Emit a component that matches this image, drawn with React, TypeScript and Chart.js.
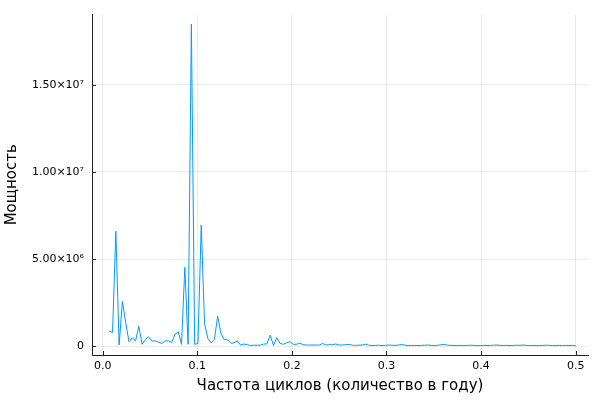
import React, { useEffect, useRef } from "react";
import { Chart, registerables } from "chart.js";

Chart.register(...registerables);

// Frequencies (cycles per sample) of the periodogram
const frequencies: number[] = [
  0.00694, 0.01042, 0.01389, 0.01736, 0.02083, 0.02431, 0.02778, 0.03125, 0.03472, 0.03819,
  0.04167, 0.04514, 0.04861, 0.05208, 0.05556, 0.05903, 0.0625, 0.06597, 0.06944, 0.07292,
  0.07639, 0.07986, 0.08333, 0.08681, 0.09028, 0.09375, 0.09722, 0.10069, 0.10417, 0.10764,
  0.11111, 0.11458, 0.11806, 0.12153, 0.125, 0.12847, 0.13194, 0.13542, 0.13889, 0.14236,
  0.14583, 0.14931, 0.15278, 0.15625, 0.15972, 0.16319, 0.16667, 0.17014, 0.17361, 0.17708,
  0.18056, 0.18403, 0.1875, 0.19097, 0.19444, 0.19792, 0.20139, 0.20486, 0.20833, 0.21181,
  0.21528, 0.21875, 0.22222, 0.22569, 0.22917, 0.23264, 0.23611, 0.23958, 0.24306, 0.24653,
  0.25, 0.25347, 0.25694, 0.26042, 0.26389, 0.26736, 0.27083, 0.27431, 0.27778, 0.28125,
  0.28472, 0.28819, 0.29167, 0.29514, 0.29861, 0.30208, 0.30556, 0.30903, 0.3125, 0.31597,
  0.31944, 0.32292, 0.32639, 0.32986, 0.33333, 0.3368, 0.34028, 0.34375, 0.34722, 0.35069,
  0.35417, 0.35764, 0.36111, 0.36458, 0.36806, 0.37153, 0.375, 0.37847, 0.38194, 0.38542,
  0.38889, 0.39236, 0.39583, 0.39931, 0.40278, 0.40625, 0.40972, 0.41319, 0.41667, 0.42014,
  0.42361, 0.42708, 0.43056, 0.43403, 0.4375, 0.44097, 0.44444, 0.44792, 0.45139, 0.45486,
  0.45833, 0.46181, 0.46528, 0.46875, 0.47222, 0.47569, 0.47917, 0.48264, 0.48611, 0.48958,
  0.49306, 0.49653, 0.5,
];

// Power values
const power: number[] = [
  0.87e6, 0.78e6, 6.6e6, 0.06e6, 2.56e6, 1.35e6, 0.25e6, 0.47e6, 0.29e6, 1.14e6,
  0.1e6, 0.38e6, 0.53e6, 0.29e6, 0.29e6, 0.21e6, 0.15e6, 0.3e6, 0.3e6, 0.21e6,
  0.67e6, 0.82e6, 0.1e6, 4.52e6, 0.1e6, 18.5e6, 0.1e6, 0.15e6, 6.95e6, 1.3e6,
  0.44e6, 0.19e6, 0.38e6, 1.71e6, 0.72e6, 0.38e6, 0.36e6, 0.17e6, 0.18e6, 0.3e6,
  0.05e6, 0.12e6, 0.08e6, 0.03e6, 0.05e6, 0.05e6, 0.05e6, 0.12e6, 0.12e6, 0.63e6,
  0.03e6, 0.48e6, 0.15e6, 0.1e6, 0.19e6, 0.25e6, 0.1e6, 0.1e6, 0.17e6, 0.08e6,
  0.06e6, 0.06e6, 0.06e6, 0.06e6, 0.06e6, 0.15e6, 0.06e6, 0.08e6, 0.08e6, 0.12e6,
  0.06e6, 0.06e6, 0.08e6, 0.1e6, 0.05e6, 0.04e6, 0.05e6, 0.06e6, 0.11e6, 0.05e6,
  0.03e6, 0.04e6, 0.05e6, 0.03e6, 0.04e6, 0.06e6, 0.05e6, 0.04e6, 0.06e6, 0.1e6,
  0.05e6, 0.03e6, 0.03e6, 0.04e6, 0.03e6, 0.04e6, 0.05e6, 0.06e6, 0.04e6, 0.03e6,
  0.05e6, 0.07e6, 0.1e6, 0.05e6, 0.04e6, 0.03e6, 0.03e6, 0.04e6, 0.03e6, 0.04e6,
  0.05e6, 0.04e6, 0.03e6, 0.03e6, 0.04e6, 0.03e6, 0.04e6, 0.05e6, 0.06e6, 0.04e6,
  0.03e6, 0.04e6, 0.03e6, 0.04e6, 0.05e6, 0.04e6, 0.06e6, 0.04e6, 0.03e6, 0.04e6,
  0.03e6, 0.03e6, 0.04e6, 0.05e6, 0.04e6, 0.03e6, 0.03e6, 0.04e6, 0.03e6, 0.04e6,
  0.03e6, 0.04e6, 0.02e6,
];

const xTicks: number[] = [0, 0.1, 0.2, 0.3, 0.4, 0.5];
const xTickLabels: string[] = ["0.0", "0.1", "0.2", "0.3", "0.4", "0.5"];
const yTicks: number[] = [0, 5e6, 1e7, 1.5e7];
const yTickLabels: string[] = ["0", "5.00×10⁶", "1.00×10⁷", "1.50×10⁷"];

const xTitle = "Частота циклов (количество в году)";
const yTitle = "Мощность";

const FONT = "'DejaVu Sans', sans-serif";

const innerTicks = {
  id: "innerTicks",
  afterDraw(chart: any) {
    const { ctx, chartArea, scales } = chart;
    const x = scales.x;
    const y = scales.y;
    ctx.save();
    ctx.strokeStyle = "#222";
    ctx.lineWidth = 1;
    ctx.beginPath();
    xTicks.forEach((v) => {
      const px = Math.round(x.getPixelForValue(v)) + 0.5;
      ctx.moveTo(px, chartArea.bottom);
      ctx.lineTo(px, chartArea.bottom - 4);
    });
    yTicks.forEach((v) => {
      const py = Math.round(y.getPixelForValue(v)) + 0.5;
      ctx.moveTo(chartArea.left, py);
      ctx.lineTo(chartArea.left + 4, py);
    });
    ctx.stroke();
    ctx.restore();
  },
};

export default function App() {
  const ref = useRef<HTMLCanvasElement | null>(null);

  useEffect(() => {
    document.body.style.margin = "0";
    if (!ref.current) return;
    const chart = new Chart(ref.current, {
      type: "line",
      data: {
        datasets: [
          {
            data: frequencies.map((f, i) => ({ x: f, y: power[i] })),
            borderColor: "#009AFA",
            backgroundColor: "#009AFA",
            borderWidth: 1,
            pointRadius: 0,
            tension: 0,
            fill: false,
          },
        ],
      },
      options: {
        animation: false,
        responsive: false,
        events: [],
        layout: { padding: { left: 0, top: 12, right: 12, bottom: 0 } },
        plugins: {
          legend: { display: false },
          tooltip: { enabled: false },
        },
        scales: {
          x: {
            type: "linear",
            min: -0.0113,
            max: 0.513,
            afterFit: (s: any) => {
              s.height = 45;
            },
            afterBuildTicks: (s: any) => {
              s.ticks = xTicks.map((v) => ({ value: v }));
            },
            grid: {
              color: "rgba(0,0,0,0.08)",
              lineWidth: 1,
              drawTicks: false,
            },
            border: { display: true, color: "#222", width: 1 },
            ticks: {
              padding: 5,
              color: "#000",
              font: { family: FONT, size: 11 },
              maxRotation: 0,
              callback: (v: any) => {
                const i = xTicks.findIndex((t) => Math.abs(t - Number(v)) < 1e-9);
                return i >= 0 ? xTickLabels[i] : "";
              },
            },
            title: {
              display: true,
              text: xTitle,
              color: "#000",
              font: { family: FONT, size: 15 },
              padding: { top: 0, bottom: 5 },
            },
          },
          y: {
            type: "linear",
            min: -0.513e6,
            max: 19.04e6,
            afterFit: (s: any) => {
              s.width = 92;
            },
            afterBuildTicks: (s: any) => {
              s.ticks = yTicks.map((v) => ({ value: v }));
            },
            grid: {
              color: "rgba(0,0,0,0.08)",
              lineWidth: 1,
              drawTicks: false,
            },
            border: { display: true, color: "#222", width: 1 },
            ticks: {
              padding: 8,
              color: "#000",
              font: { family: FONT, size: 11 },
              callback: (v: any) => {
                const i = yTicks.findIndex((t) => Math.abs(t - Number(v)) < 1);
                return i >= 0 ? yTickLabels[i] : "";
              },
            },
            title: {
              display: true,
              text: yTitle,
              color: "#000",
              font: { family: FONT, size: 15 },
              padding: { top: 3, bottom: 0 },
            },
          },
        },
      },
      plugins: [innerTicks],
    });
    return () => chart.destroy();
  }, []);

  return <canvas ref={ref} width={600} height={400} style={{ display: "block" }} />;
}
